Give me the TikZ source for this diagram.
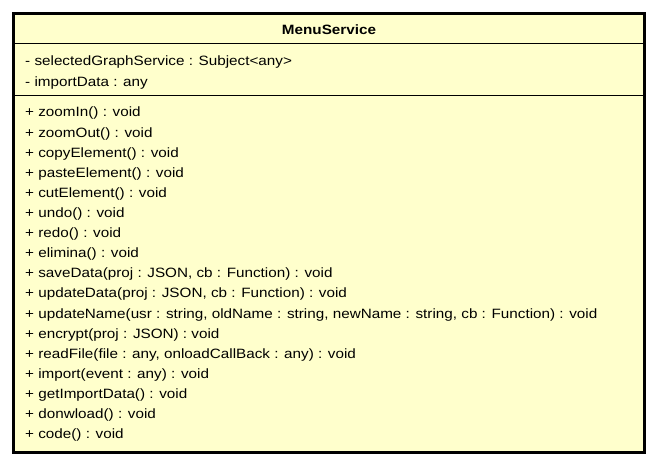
\documentclass[tikz,border=0pt]{standalone}
\usepackage{fontspec}
\setmainfont{Liberation Sans}[FakeStretch=1.13]
\begin{document}
\begin{tikzpicture}[x=1pt,y=-1pt,
  member/.style={anchor=base west,inner sep=0pt,font=\fontsize{13.5}{15}\selectfont},
  title/.style={anchor=base,inner sep=0pt,font=\fontsize{13.5}{15}\selectfont\bfseries}]
\definecolor{umlfill}{RGB}{255,255,204}
\useasboundingbox (0,0) rectangle (658,465);
\draw[line width=3pt,fill=umlfill] (13.5,14) rectangle (644.5,452);
\draw[line width=1.3pt] (15,43.7) -- (643,43.7);
\draw[line width=1.3pt] (15,95.5) -- (643,95.5);
\node[title] (t) at (329,35) {MenuService};
\foreach \i/\txt in {0/{- selectedGraphService : Subject<any>},1/{- importData : any}}{
  \node[member] (a\i) at (25,66+20.1*\i) {\txt};
}
\foreach \i/\txt in {
 0/{+ zoomIn() : void},
 1/{+ zoomOut() : void},
 2/{+ copyElement() : void},
 3/{+ pasteElement() : void},
 4/{+ cutElement() : void},
 5/{+ undo() : void},
 6/{+ redo() : void},
 7/{+ elimina() : void},
 8/{+ saveData(proj : JSON, cb : Function) : void},
 9/{+ updateData(proj : JSON, cb : Function) : void},
 10/{+ updateName(usr : string, oldName : string, newName : string, cb : Function) : void},
 11/{+ encrypt(proj : JSON) : void},
 12/{+ readFile(file : any, onloadCallBack : any) : void},
 13/{+ import(event : any) : void},
 14/{+ getImportData() : void},
 15/{+ donwload() : void},
 16/{+ code() : void}}{
  \node[member] (m\i) at (25,117+20.1*\i) {\txt};
}
\end{tikzpicture}
\end{document}
